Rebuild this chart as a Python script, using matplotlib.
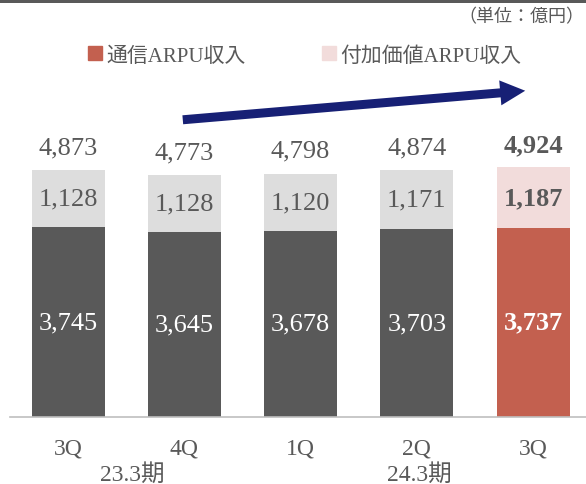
"""
Stacked bar chart of ARPU revenue by quarter.
"""

import matplotlib.pyplot as plt
from matplotlib.patches import Patch, Rectangle

plt.rcParams['font.family'] = ['Liberation Serif', 'Noto Sans CJK JP']

quarters = ["3Q", "4Q", "1Q", "2Q", "3Q"]
comm_arpu = [3745, 3645, 3678, 3703, 3737]
value_arpu = [1128, 1128, 1120, 1171, 1187]
totals = [4873, 4773, 4798, 4874, 4924]
periods = ["23.3期", "24.3期"]
period_pos = [0.55, 3.02]

text_col = "#595959"
dark_cols = ["#595959"] * 4 + ["#C3604F"]
light_cols = ["#DDDDDD"] * 4 + ["#F2DCDB"]

fig = plt.figure(figsize=(5.86, 4.85), dpi=100)
ax = fig.add_axes([10 / 586, 67 / 485, 576 / 586, 338 / 485])

x = list(range(len(quarters)))
bw = 0.628
ax.bar(x, comm_arpu, width=bw, color=dark_cols, zorder=2)
ax.bar(x, value_arpu, width=bw, bottom=comm_arpu, color=light_cols, zorder=2)

for i in x:
    last = i == len(x) - 1
    weight = "bold" if last else "normal"
    # labels inside the bars
    ax.text(i, comm_arpu[i] / 2, f"{comm_arpu[i]:,}", ha="center", va="center",
            color="white", fontsize=19, fontweight=weight)
    ax.text(i, comm_arpu[i] + value_arpu[i] / 2, f"{value_arpu[i]:,}",
            ha="center", va="center", color=text_col, fontsize=19,
            fontweight=weight)
    # total above bar
    ax.annotate(f"{totals[i]:,}", xy=(i, totals[i]), xytext=(0, 16.5),
                textcoords="offset points", ha="center", va="center",
                color=text_col, fontsize=19, fontweight=weight)

ax.set_xlim(-0.499, 4.454)
ax.set_ylim(0, 6667)
ax.set_xticks(x)
ax.set_xticklabels(quarters, fontsize=17, color=text_col)
ax.tick_params(axis="x", length=0, pad=15)
ax.set_yticks([])
for s in ["top", "right", "left"]:
    ax.spines[s].set_visible(False)
ax.spines["bottom"].set_color("#BFBFBF")
ax.spines["bottom"].set_linewidth(1.2)

for p, xp in zip(periods, period_pos):
    ax.annotate(p, xy=(xp, 0), xycoords=("data", "axes fraction"),
                xytext=(0, -41), textcoords="offset points", ha="center",
                va="center", fontsize=17, color=text_col, annotation_clip=False)

# trend arrow
ax.annotate("", xy=(3.955, 6440), xytext=(0.963, 5858),
            arrowprops=dict(arrowstyle="simple,head_length=1,head_width=1,tail_width=0.36",
                            mutation_scale=18, color="#172075", lw=0),
            annotation_clip=False)

# legend
handles = [Patch(color="#C3604F", label="通信ARPU収入"),
           Patch(color="#F2DCDB", label="付加価値ARPU収入")]
fig.legend(handles=handles, loc="center", bbox_to_anchor=(0.52, 1 - 57 / 485),
           ncol=2, frameon=False, fontsize=15, handlelength=0.65,
           handleheight=0.65, handletextpad=0.2, columnspacing=3.7,
           labelcolor=text_col)

fig.text(584 / 586, 1 - 18 / 485, "（単位：億円）", ha="right", va="center",
         fontsize=13, color=text_col)

# dark rule along the top edge
fig.add_artist(Rectangle((0, 1 - 4 / 485), 1, 4 / 485, transform=fig.transFigure,
                         color="#595959", lw=0))

plt.savefig("out.png", dpi=100)
